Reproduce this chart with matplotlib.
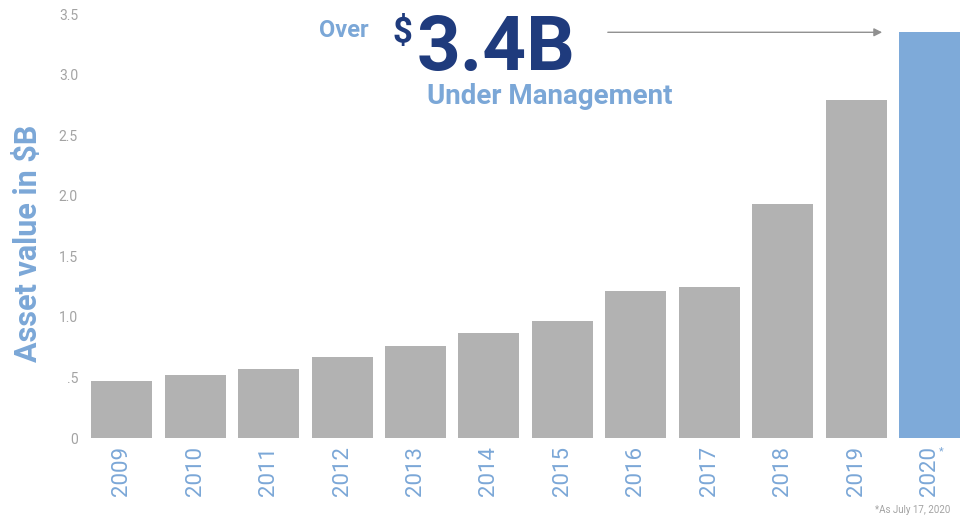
import matplotlib.pyplot as plt
import matplotlib.transforms as mtransforms

years = ['2009', '2010', '2011', '2012', '2013', '2014', '2015', '2016', '2017', '2018', '2019', '2020']
assets = [0.47, 0.52, 0.57, 0.67, 0.76, 0.87, 0.97, 1.21, 1.25, 1.93, 2.79, 3.35]
yticks = [0, 0.5, 1.0, 1.5, 2.0, 2.5, 3.0, 3.5]
ytick_labels = ['0', '.5', '1.0', '1.5', '2.0', '2.5', '3.0', '3.5']

light_blue = '#7ba7d7'
navy = '#1f3b7d'
grey_bar = '#b2b2b2'
grey_txt = '#a3a3a3'

plt.rcParams['font.family'] = ['Roboto', 'DejaVu Sans']

fig = plt.figure(figsize=(9.65, 5.23), dpi=100)
ax = fig.add_axes([0.088, 0.1625, 0.912, 0.8105])

colors = [grey_bar] * (len(years) - 1) + ['#7eaad9']
x = range(len(years))
ax.bar(x, assets, width=0.83, color=colors)

ax.set_xlim(-0.5, 11.48)
ax.set_ylim(0, 3.5)
ax.set_yticks(yticks)
ax.set_yticklabels(ytick_labels, color=grey_txt, fontsize=10)
ax.set_xticks(list(x))
ax.set_xticklabels(years, rotation=90, color=light_blue, fontsize=16)
ax.tick_params(length=0, pad=6)
ax.tick_params(axis='y', pad=5)
for s in ax.spines.values():
    s.set_visible(False)

ax.set_ylabel('Asset value in $B', color=light_blue, fontsize=22, fontweight='bold')
ax.yaxis.set_label_coords(-0.048, 0.46)

# asterisk on the last year
trans = mtransforms.blended_transform_factory(ax.transData, ax.transAxes)
ax.text(11.13, -0.02, '*', transform=trans, color=light_blue, fontsize=8, ha='left', va='top')

# headline
fig.text(0.331, 0.942, 'Over', color=light_blue, fontsize=17, fontweight='bold', va='center')
fig.text(0.407, 0.937, '$', color=navy, fontsize=25, fontweight='bold', va='center')
fig.text(0.432, 0.905, '3.4B', color=navy, fontsize=55, fontweight='bold', va='center')
fig.text(0.442, 0.815, 'Under Management', color=light_blue, fontsize=20, fontweight='bold', va='center')

ax.annotate('', xy=(10.39, 3.35), xytext=(6.58, 3.35),
            arrowprops=dict(arrowstyle='-|>', color='#909090', lw=1, mutation_scale=12))

fig.text(0.985, 0.015, '*As July 17, 2020', color=grey_txt, fontsize=7, ha='right', va='bottom')

plt.savefig('out.png', dpi=100)
